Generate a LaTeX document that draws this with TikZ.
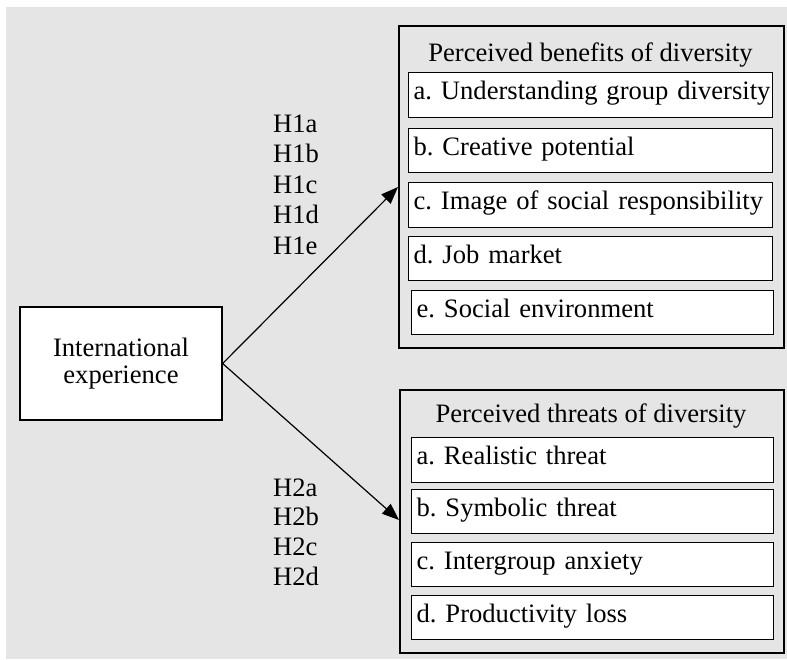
\documentclass[tikz,border=0pt]{standalone}
\usepackage{fontspec}
\setmainfont{Liberation Serif}
\usetikzlibrary{arrows.meta}
\definecolor{bggray}{RGB}{229,229,229}
\frenchspacing
\hyphenpenalty=10000
\exhyphenpenalty=10000
\begin{document}
\begin{tikzpicture}[x=1pt,y=-1pt,
  every node/.style={font=\fontsize{26.6}{27}\selectfont},
  outerbox/.style={draw, line width=1.6pt, anchor=north west, inner sep=0pt},
  itembox/.style={draw, fill=white, line width=1.3pt, anchor=north west,
     inner xsep=5pt, inner ysep=0pt, align=left, text height=27pt, text depth=17pt},
  titletext/.style={anchor=base, inner sep=0pt},
  hlabel/.style={anchor=base west, inner sep=0pt},
  srcbox/.style={draw, fill=white, line width=1.3pt, align=center, inner sep=0pt,
     minimum width=202pt, minimum height=113pt},
  arrowline/.style={line width=1.2pt, -{Triangle[length=17pt,width=13pt]}}
]
\useasboundingbox (0,0) rectangle (787,659);
\fill[bggray] (6,7) rectangle (787,659);

% outer group boxes
\node[outerbox, minimum width=385pt, minimum height=322pt] (ben) at (398,25) {};
\node[outerbox, minimum width=384pt, minimum height=263pt] (thr) at (399,389) {};

\node[titletext] (bentitle) at (590.5,61) {Perceived benefits of diversity};
\node[titletext] (thrtitle) at (591,422) {Perceived threats of diversity};

% benefit items
\node[itembox, text width=354pt, text depth=18pt] (ba) at (408,72) {\mbox{a. Understanding group diversity}};
\node[itembox, text width=354pt] (bb) at (408,128) {\mbox{b. Creative potential}};
\node[itembox, text width=354pt, text depth=18pt] (bc) at (408,182) {\mbox{c. Image of social responsibility}};
\node[itembox, text width=354pt] (bd) at (408,236) {\mbox{d. Job market}};
\node[itembox, text width=352pt] (be) at (411,290) {\mbox{e. Social environment}};

% threat items
\node[itembox, text width=352pt, text depth=18pt] (ta) at (411,437) {\mbox{a. Realistic threat}};
\node[itembox, text width=352pt] (tb) at (411,489) {\mbox{b. Symbolic threat}};
\node[itembox, text width=352pt] (tc) at (411,542) {\mbox{c. Intergroup anxiety}};
\node[itembox, text width=352pt] (td) at (411,595) {\mbox{d. Productivity loss}};

% source box
\node[srcbox] (ie) at (121,363.5) {International\\experience};

% hypothesis labels
\node[hlabel] (h1a) at (273,132) {H1a};
\node[hlabel] (h1b) at (273,162.5) {H1b};
\node[hlabel] (h1c) at (273,193) {H1c};
\node[hlabel] (h1d) at (273,223.5) {H1d};
\node[hlabel] (h1e) at (273,254.5) {H1e};
\node[hlabel] (h2a) at (273,496) {H2a};
\node[hlabel] (h2b) at (273,525.5) {H2b};
\node[hlabel] (h2c) at (273,555) {H2c};
\node[hlabel] (h2d) at (273,585) {H2d};

% arrows
\coordinate (tip1) at (ben.west |- 0,187);
\coordinate (tip2) at (thr.west |- 0,520);
\draw[arrowline] (ie.east) -- (tip1);
\draw[arrowline] (ie.east) -- (tip2);
\end{tikzpicture}
\end{document}
